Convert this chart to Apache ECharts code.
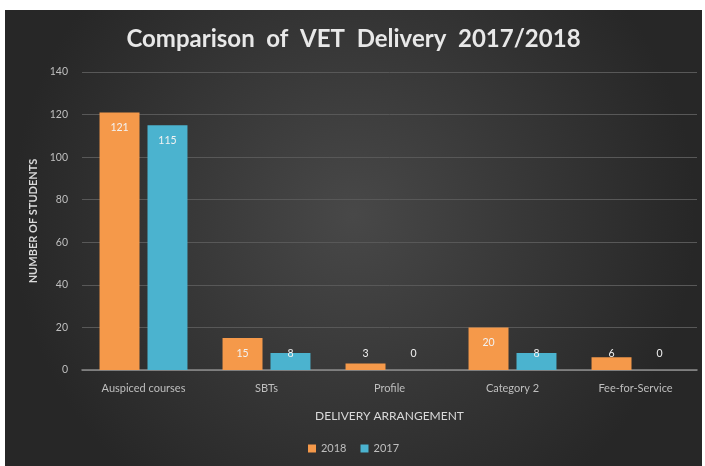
<!DOCTYPE html>
<html>
<head>
<meta charset="utf-8">
<script src="https://cdn.jsdelivr.net/npm/echarts@6/dist/echarts.min.js"></script>
<style>
  html, body { margin: 0; padding: 0; background: #ffffff; width: 705px; height: 466px; overflow: hidden; }
  #chart { position: absolute; left: 5px; top: 10px; width: 697px; height: 456px; }
</style>
</head>
<body>
<div id="chart"></div>
<script>
// Delivery arrangements and student counts per year
const categories = ['Auspiced courses', 'SBTs', 'Profile', 'Category 2', 'Fee-for-Service'];
const students2018 = [121, 15, 3, 20, 6];
const students2017 = [115, 8, 0, 8, 0];
const yTicks = { min: 0, max: 140, interval: 20 };

const textColor = '#d9d9d9';
const labelColor = '#bfbfbf';

const gridTop = 62, gridBottom = 96, chartHeight = 456;
const plotHeight = chartHeight - gridTop - gridBottom;
const pxPerUnit = plotHeight / (yTicks.max - yTicks.min);

// Value labels sit just inside the bar top; on short bars they are
// held at a common height just above the axis line
function withLabels(values) {
  return values.map(v => ({
    value: v,
    label: v >= 12
      ? { position: 'insideTop', distance: 10 }
      : { position: 'top', distance: 11 - v * pxPerUnit }
  }));
}

const chart = echarts.init(document.getElementById('chart'), null, { renderer: 'canvas' });
chart.setOption({
  backgroundColor: {
    type: 'radial', x: 0.5, y: 0.45, r: 0.75,
    colorStops: [
      { offset: 0, color: '#484848' },
      { offset: 1, color: '#272727' }
    ]
  },
  title: {
    text: 'Comparison  of  VET  Delivery  2017/2018',
    left: 'center',
    top: 12,
    textStyle: { color: '#e8e8e8', fontFamily: 'Lato', fontWeight: 'bold', fontSize: 24 }
  },
  legend: {
    bottom: 7,
    left: 'center',
    itemWidth: 8,
    itemHeight: 8,
    itemGap: 14,
    icon: 'rect',
    textStyle: { color: labelColor, fontFamily: 'Lato', fontSize: 11 },
    data: ['2018', '2017']
  },
  grid: { left: 77, right: 5, top: gridTop, bottom: gridBottom, containLabel: false },
  xAxis: {
    type: 'category',
    data: categories,
    name: 'DELIVERY ARRANGEMENT',
    nameLocation: 'middle',
    nameGap: 40,
    nameTextStyle: { color: textColor, fontFamily: 'Lato', fontSize: 12 },
    axisLine: { lineStyle: { color: '#8c8c8c', width: 1.5 } },
    axisTick: { show: false },
    axisLabel: { color: labelColor, fontFamily: 'Lato', fontSize: 11, margin: 13 }
  },
  yAxis: {
    type: 'value',
    min: yTicks.min,
    max: yTicks.max,
    interval: yTicks.interval,
    name: 'NUMBER OF STUDENTS',
    nameLocation: 'middle',
    nameGap: 43,
    nameTextStyle: { color: textColor, fontFamily: 'Lato', fontWeight: 'bold', fontSize: 11 },
    axisLine: { show: false },
    axisTick: { show: false },
    axisLabel: { color: labelColor, fontFamily: 'Lato', fontSize: 10.5, margin: 14 },
    splitLine: { lineStyle: { color: '#585858', width: 1 } }
  },
  series: [
    {
      name: '2018',
      type: 'bar',
      data: withLabels(students2018),
      barWidth: '32.5%',
      barGap: '20%',
      itemStyle: { color: '#f5994a' },
      label: { show: true, color: '#f2f2f2', fontFamily: 'Lato', fontSize: 10.5 }
    },
    {
      name: '2017',
      type: 'bar',
      data: withLabels(students2017),
      barWidth: '32.5%',
      barGap: '20%',
      itemStyle: { color: '#4bb3cf' },
      label: { show: true, color: '#f2f2f2', fontFamily: 'Lato', fontSize: 10.5 }
    }
  ]
});
</script>
</body>
</html>
